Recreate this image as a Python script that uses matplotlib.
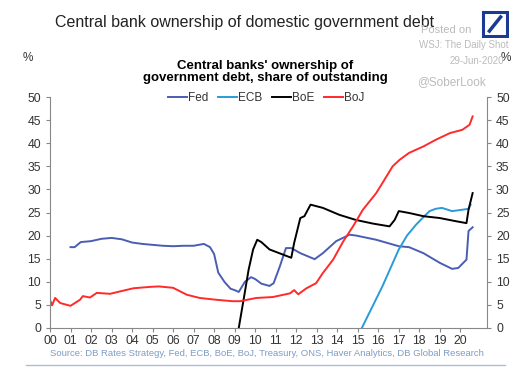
import matplotlib.pyplot as plt
from matplotlib.patches import Rectangle
from matplotlib.lines import Line2D

# years since 2000 (fractional) and % share of outstanding debt
fed_x = [1.0, 1.2, 1.5, 2.0, 2.5, 3.0, 3.5, 4.0, 4.5, 5.0, 5.5, 6.0, 6.5, 7.0, 7.5,
         7.8, 8.0, 8.2, 8.5, 8.8, 9.0, 9.2, 9.5, 9.8, 10.0, 10.3, 10.7, 10.9, 11.2,
         11.5, 11.76, 12.2, 12.9, 13.3, 13.95, 14.6, 14.93, 15.9, 17.0, 17.5, 18.2,
         19.0, 19.6, 19.9, 20.3, 20.4, 20.6]
fed_y = [17.5, 17.5, 18.6, 18.8, 19.3, 19.5, 19.2, 18.5, 18.2, 18.0, 17.8, 17.7, 17.8,
         17.8, 18.2, 17.5, 16.0, 12.0, 10.0, 8.5, 8.2, 7.8, 10.0, 11.0, 10.6, 9.6, 9.1,
         9.7, 13.3, 17.3, 17.3, 16.2, 14.9, 16.2, 18.8, 20.2, 20.0, 19.1, 17.7, 17.5,
         16.2, 14.1, 12.8, 13.0, 14.8, 21.0, 21.8]

ecb_x = [15.2, 15.7, 16.2, 16.6, 17.0, 17.4, 17.85, 18.2, 18.5, 18.8, 19.1, 19.6,
         20.1, 20.4, 20.5]
ecb_y = [0.0, 4.5, 9.0, 13.0, 17.0, 20.0, 22.4, 24.0, 25.3, 25.8, 26.0, 25.3,
         25.6, 25.8, 26.7]

boe_x = [9.2, 9.45, 9.68, 9.9, 10.1, 10.3, 10.7, 11.35, 11.76, 11.9, 12.2, 12.4,
         12.7, 13.3, 14.1, 14.9, 15.74, 16.55, 16.8, 17.0, 17.5, 18.2, 19.0, 19.8,
         20.3, 20.4, 20.6]
boe_y = [0.0, 6.5, 12.6, 17.0, 19.1, 18.6, 17.0, 15.9, 15.2, 18.4, 23.8, 24.2,
         26.7, 26.0, 24.5, 23.4, 22.6, 22.0, 23.4, 25.3, 24.9, 24.2, 23.8, 23.1,
         22.7, 25.6, 29.2]

boj_x = [0.0, 0.1, 0.25, 0.5, 1.0, 1.46, 1.6, 1.95, 2.28, 2.93, 3.4, 4.07, 4.88,
         5.3, 6.0, 6.67, 7.3, 8.13, 8.9, 9.27, 10.05, 10.86, 11.7, 11.9, 12.1, 12.5,
         12.97, 13.3, 13.8, 14.3, 14.77, 15.25, 15.9, 16.4, 16.7, 17.04, 17.5, 18.2,
         18.83, 19.5, 20.1, 20.45, 20.6]
boj_y = [6.1, 4.9, 6.5, 5.4, 4.8, 6.1, 6.9, 6.6, 7.6, 7.4, 7.9, 8.6, 8.9, 9.0, 8.7,
         7.2, 6.5, 6.1, 5.8, 5.8, 6.5, 6.7, 7.5, 8.2, 7.3, 8.6, 9.7, 11.9, 14.8,
         18.8, 22.0, 25.6, 29.2, 32.8, 35.0, 36.4, 37.9, 39.3, 40.8, 42.2, 42.9,
         44.0, 45.8]

year_labels = ['00', '01', '02', '03', '04', '05', '06', '07', '08', '09', '10',
               '11', '12', '13', '14', '15', '16', '17', '18', '19', '20']

plt.rcParams['font.family'] = ['Liberation Sans', 'DejaVu Sans']

fig = plt.figure(figsize=(5.3, 3.72), dpi=100)
ax = fig.add_axes([50 / 530, 1 - 328 / 372, 437 / 530, 231 / 372])

ax.plot(fed_x, fed_y, color='#4A5DB3', lw=1.4, label='Fed')
ax.plot(ecb_x, ecb_y, color='#2A9BD9', lw=1.4, label='ECB')
ax.plot(boe_x, boe_y, color='black', lw=1.4, label='BoE')
ax.plot(boj_x, boj_y, color='#FF2A2A', lw=1.4, label='BoJ')

ax.set_xlim(0, 21.3)
ax.set_ylim(0, 50)
ax.set_xticks(range(len(year_labels)))
ax.set_xticklabels(year_labels)
ax.set_yticks(range(0, 51, 5))
ax.tick_params(axis='both', labelsize=8.8, colors='#333333', length=3, color='#888888')
ax.tick_params(axis='x', pad=2)
ax.tick_params(axis='y', labelleft=True, labelright=True, left=True, right=True)
for s in ['left', 'right', 'bottom']:
    ax.spines[s].set_color('#888888')
ax.spines['top'].set_visible(False)

ax.legend(loc='center', bbox_to_anchor=(0.495, 0.995), ncol=4, frameon=False,
          fontsize=8.5, handlelength=1.6, handletextpad=0.1, columnspacing=0.8,
          borderaxespad=0, labelcolor='#333333')

# titles
fig.text(245 / 530, 1 - 22 / 372, 'Central bank ownership of domestic government debt',
         ha='center', va='center', fontsize=11.5, color='#222222')
fig.text(265 / 530, 1 - 72 / 372,
         "Central banks' ownership of\ngovernment debt, share of outstanding",
         ha='center', va='center', fontsize=9.5, fontweight='bold', linespacing=1.05)
fig.text(28 / 530, 1 - 58 / 372, '%', ha='center', va='center', fontsize=8.5, color='#333333')
fig.text(506 / 530, 1 - 58 / 372, '%', ha='center', va='center', fontsize=8.5, color='#333333')

# watermark
wm = '#BBBBBB'
fig.text(446 / 530, 1 - 30 / 372, 'Posted on', ha='center', va='center', fontsize=8, color=wm)
fig.text(464 / 530, 1 - 45 / 372, 'WSJ: The Daily Shot', ha='center', va='center', fontsize=7, color=wm)
fig.text(477 / 530, 1 - 61 / 372, '29-Jun-2020', ha='center', va='center', fontsize=7, color=wm)
fig.text(451 / 530, 1 - 82 / 372, '@SoberLook', ha='center', va='center', fontsize=8.5, color=wm)

# DB logo
logo = fig.add_axes([481 / 530, 1 - 38 / 372, 28 / 530, 28 / 372])
logo.set_xlim(0, 1)
logo.set_ylim(0, 1)
logo.axis('off')
logo.add_patch(Rectangle((0.06, 0.06), 0.88, 0.88, fill=False, ec='#1A3A94', lw=2.2))
logo.add_line(Line2D([0.3, 0.7], [0.25, 0.75], color='#1A3A94', lw=2.5))

# source
fig.text(267 / 530, 1 - 354 / 372,
         'Source: DB Rates Strategy, Fed, ECB, BoE, BoJ, Treasury, ONS, Haver Analytics, DB Global Research',
         ha='center', va='center', fontsize=6.8, color='#7D9CC6')
fig.add_artist(Line2D([26 / 530, 505 / 530], [1 - 365 / 372, 1 - 365 / 372],
                      color='#A9BEDB', lw=1))

fig.savefig('out.png', dpi=100)
